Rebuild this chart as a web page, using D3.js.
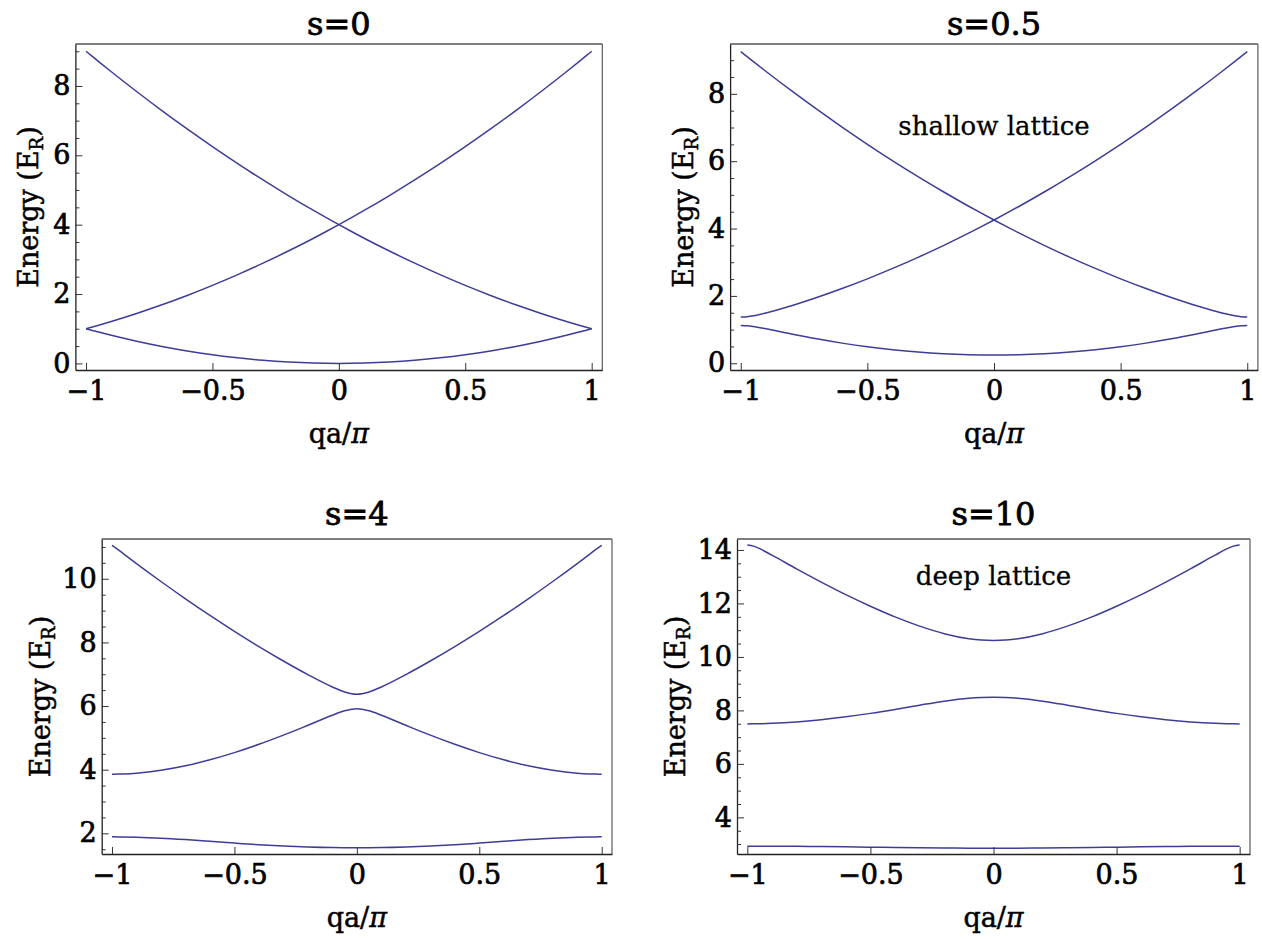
<!DOCTYPE html>
<html>
<head>
<meta charset="utf-8">
<script src="https://cdn.jsdelivr.net/npm/d3@7"></script>
<style>
  body { margin: 0; background: #fff; }
</style>
</head>
<body>
<svg id="chart" width="1262" height="939"></svg>
<script>
// quasi-momentum grid (qa/pi)
const qa = [-1, -0.975, -0.95, -0.9, -0.8, -0.7, -0.6, -0.5, -0.4, -0.3, -0.2, -0.1, -0.05, 0,
  0.05, 0.1, 0.2, 0.3, 0.4, 0.5, 0.6, 0.7, 0.8, 0.9, 0.95, 0.975, 1];

// s = 0 (free particle)
const s0Low = [1, 0.951, 0.903, 0.81, 0.64, 0.49, 0.36, 0.25, 0.16, 0.09, 0.04, 0.01, 0.0025, 0,
  0.0025, 0.01, 0.04, 0.09, 0.16, 0.25, 0.36, 0.49, 0.64, 0.81, 0.903, 0.951, 1];
const s0Fall = [9, 8.851, 8.703, 8.41, 7.84, 7.29, 6.76, 6.25, 5.76, 5.29, 4.84, 4.41, 4.203, 4,
  3.803, 3.61, 3.24, 2.89, 2.56, 2.25, 1.96, 1.69, 1.44, 1.21, 1.103, 1.051, 1];
const s0Rise = [1, 1.051, 1.103, 1.21, 1.44, 1.69, 1.96, 2.25, 2.56, 2.89, 3.24, 3.61, 3.803, 4,
  4.203, 4.41, 4.84, 5.29, 5.76, 6.25, 6.76, 7.29, 7.84, 8.41, 8.703, 8.851, 9];

// s = 0.5
const s05Low = [1.123, 1.114, 1.09, 1.022, 0.869, 0.725, 0.598, 0.489, 0.401, 0.331, 0.282, 0.252, 0.245, 0.242,
  0.245, 0.252, 0.282, 0.331, 0.401, 0.489, 0.598, 0.725, 0.869, 1.022, 1.09, 1.114, 1.123];
const s05Fall = [9.253, 9.104, 8.956, 8.663, 8.093, 7.543, 7.013, 6.503, 6.013, 5.543, 5.093, 4.663, 4.456, 4.253,
  4.055, 3.863, 3.494, 3.145, 2.816, 2.507, 2.219, 1.952, 1.708, 1.494, 1.411, 1.384, 1.373];
const s05Rise = [1.373, 1.384, 1.411, 1.494, 1.708, 1.952, 2.219, 2.507, 2.816, 3.145, 3.494, 3.863, 4.055, 4.253,
  4.456, 4.663, 5.093, 5.543, 6.013, 6.503, 7.013, 7.543, 8.093, 8.663, 8.956, 9.104, 9.253];

// s = 4
const s4Band1 = [1.889, 1.888, 1.886, 1.878, 1.848, 1.802, 1.748, 1.693, 1.642, 1.6, 1.57, 1.551, 1.547, 1.545,
  1.547, 1.551, 1.57, 1.6, 1.642, 1.693, 1.748, 1.802, 1.848, 1.878, 1.886, 1.888, 1.889];
const s4Band2 = [3.858, 3.861, 3.867, 3.89, 3.98, 4.121, 4.311, 4.537, 4.797, 5.085, 5.395, 5.712, 5.85, 5.917,
  5.85, 5.712, 5.395, 5.085, 4.797, 4.537, 4.311, 4.121, 3.98, 3.89, 3.867, 3.861, 3.858];
const s4Band3 = [11.048, 10.914, 10.768, 10.478, 9.914, 9.371, 8.849, 8.349, 7.87, 7.416, 6.988, 6.6, 6.444, 6.372,
  6.444, 6.6, 6.988, 7.416, 7.87, 8.349, 8.849, 9.371, 9.914, 10.478, 10.768, 10.914, 11.048];

// s = 10
const s10Band1 = [2.924, 2.924, 2.923, 2.922, 2.917, 2.908, 2.897, 2.886, 2.874, 2.863, 2.854, 2.849, 2.848, 2.847,
  2.848, 2.849, 2.854, 2.863, 2.874, 2.886, 2.897, 2.908, 2.917, 2.922, 2.923, 2.924, 2.924];
const s10Band2 = [7.496, 7.497, 7.501, 7.516, 7.57, 7.654, 7.761, 7.889, 8.037, 8.197, 8.345, 8.453, 8.482, 8.492,
  8.482, 8.453, 8.345, 8.197, 8.037, 7.889, 7.761, 7.654, 7.57, 7.516, 7.501, 7.497, 7.496];
const s10Band3 = [14.186, 14.144, 14.048, 13.805, 13.294, 12.8, 12.331, 11.897, 11.498, 11.152, 10.87, 10.681, 10.63, 10.613,
  10.63, 10.681, 10.87, 11.152, 11.498, 11.897, 12.331, 12.8, 13.294, 13.805, 14.048, 14.144, 14.186];

const xTicks = [-1, -0.5, 0, 0.5, 1];
const yTicksS0 = [0, 2, 4, 6, 8];
const yTicksS05 = [0, 2, 4, 6, 8];
const yTicksS4 = [2, 4, 6, 8, 10];
const yTicksS10 = [4, 6, 8, 10, 12, 14];

const lineColor = '#3d3d99';
const serif = '"DejaVu Serif", serif';

const panels = [
  { title: 's=0', bands: [s0Low, s0Fall, s0Rise], yDomain: [-0.19, 9.21], yTicks: yTicksS0,
    box: { l: 75.4, r: 602.3, t: 44, b: 370 }, titleY: 35, note: null },
  { title: 's=0.5', bands: [s05Low, s05Fall, s05Rise], yDomain: [-0.2, 9.48], yTicks: yTicksS05,
    box: { l: 730.1, r: 1257.9, t: 44, b: 370 }, titleY: 35, note: 'shallow lattice', noteY: 135 },
  { title: 's=4', bands: [s4Band1, s4Band2, s4Band3], yDomain: [1.35, 11.25], yTicks: yTicksS4,
    box: { l: 101.7, r: 612, t: 539, b: 854 }, titleY: 525, note: null },
  { title: 's=10', bands: [s10Band1, s10Band2, s10Band3], yDomain: [2.63, 14.41], yTicks: yTicksS10,
    box: { l: 737, r: 1250, t: 539, b: 854 }, titleY: 525, note: 'deep lattice', noteY: 585 }
];

const svg = d3.select('#chart');
svg.append('rect').attr('width', 1262).attr('height', 939).attr('fill', '#fff');

function fmt(v) {
  return v < 0 ? '\u2212' + Math.abs(v) : String(v);
}

// regular serif, slightly thickened to match the heavier reference glyphs
function heavy(sel, size, extra) {
  sel.attr('font-family', serif).attr('font-size', size).attr('fill', '#000')
    .attr('stroke', '#000').attr('stroke-width', extra).attr('paint-order', 'stroke');
}

panels.forEach(p => {
  const x = d3.scaleLinear().domain([-1.042, 1.042]).range([p.box.l, p.box.r]);
  const y = d3.scaleLinear().domain(p.yDomain).range([p.box.b, p.box.t]);
  const g = svg.append('g');

  // curves
  const line = d3.line()
    .x((d, i) => x(qa[i]))
    .y(d => y(d))
    .curve(d3.curveMonotoneX);

  g.selectAll('path.band')
    .data(p.bands)
    .join('path')
    .attr('class', 'band')
    .attr('d', line)
    .attr('fill', 'none')
    .attr('stroke', lineColor)
    .attr('stroke-width', 1.5);

  // frame: top/right lighter, left/bottom dark
  g.append('line').attr('x1', p.box.l).attr('x2', p.box.r).attr('y1', p.box.t).attr('y2', p.box.t)
    .attr('stroke', '#555').attr('stroke-width', 1.3);
  g.append('line').attr('x1', p.box.r).attr('x2', p.box.r).attr('y1', p.box.t).attr('y2', p.box.b)
    .attr('stroke', '#666').attr('stroke-width', 1.3);

  // bottom axis, ticks inward
  const xAxis = g.append('g')
    .attr('transform', `translate(0,${p.box.b})`)
    .call(d3.axisBottom(x).tickValues(xTicks).tickSize(-7).tickSizeOuter(0).tickPadding(11).tickFormat(fmt));

  // left axis
  const yAxis = g.append('g')
    .attr('transform', `translate(${p.box.l},0)`)
    .call(d3.axisLeft(y).tickValues(p.yTicks).tickSize(-7).tickSizeOuter(0).tickPadding(5).tickFormat(fmt));

  const minors = d3.range(Math.ceil(p.yDomain[0] * 2) / 2, p.yDomain[1], 0.5).filter(v => v % 2 !== 0);
  g.append('g')
    .attr('transform', `translate(${p.box.l},0)`)
    .call(d3.axisLeft(y).tickValues(minors).tickSize(-4).tickFormat(''))
    .select('.domain').remove();

  [xAxis, yAxis].forEach(a => {
    a.select('.domain').attr('stroke', '#222').attr('stroke-width', 1.3);
    heavy(a.selectAll('text'), 27, 0.7);
  });
  g.selectAll('.tick line').attr('stroke', '#333');

  // title
  g.append('text')
    .attr('x', x(0)).attr('y', p.titleY)
    .attr('text-anchor', 'middle')
    .call(heavy, 32, 0.8)
    .text(p.title);

  // axis labels
  const xl = g.append('text')
    .attr('x', x(0)).attr('y', p.box.b + 73)
    .attr('text-anchor', 'middle')
    .call(heavy, 27, 0.5);
  xl.append('tspan').text('qa/');
  xl.append('tspan').attr('font-style', 'italic').text('\u03c0');

  const yl = g.append('text')
    .attr('transform', `translate(${p.box.l - (p.yTicks[p.yTicks.length - 1] >= 10 ? 52 : 37)},${(p.box.t + p.box.b) / 2}) rotate(-90)`)
    .attr('text-anchor', 'middle')
    .call(heavy, 27, 0.5);
  yl.append('tspan').text('Energy (E');
  yl.append('tspan').attr('font-size', 18).attr('dy', 5).text('R');
  yl.append('tspan').attr('dy', -5).text(')');

  if (p.note) {
    g.append('text')
      .attr('x', x(0)).attr('y', p.noteY)
      .attr('text-anchor', 'middle')
      .call(heavy, 26, 0.3)
      .text(p.note);
  }
});
</script>
</body>
</html>
